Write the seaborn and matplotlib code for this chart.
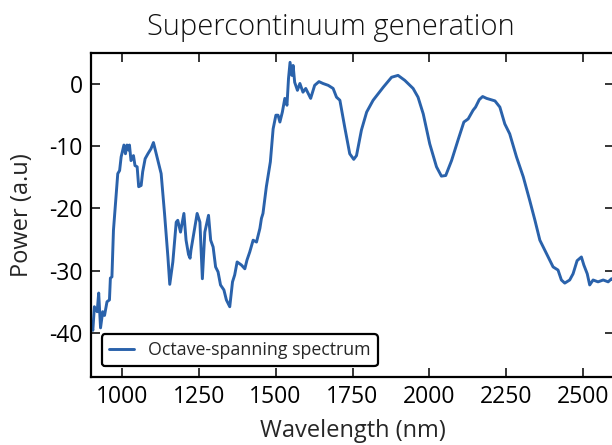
import matplotlib
matplotlib.use("Agg")
import matplotlib.pyplot as plt
import seaborn as sns
import pandas as pd

wavelength = [900, 906, 911, 920, 925, 931, 938, 944, 952, 960, 963, 968, 973, 978, 987, 993, 998,
              1007, 1012, 1017, 1022, 1025, 1030, 1038, 1043, 1050, 1055, 1063, 1068, 1076, 1085,
              1095, 1103, 1112, 1120, 1128, 1139, 1150, 1156, 1166, 1177, 1182, 1191, 1202, 1209,
              1217, 1222, 1225, 1236, 1245, 1254, 1262, 1270, 1282, 1289, 1297, 1305, 1313, 1321,
              1332, 1340, 1351, 1360, 1367, 1375, 1389, 1400, 1407, 1416, 1427, 1438, 1449, 1454,
              1459, 1470, 1483, 1492, 1501, 1508, 1514, 1522, 1530, 1537, 1542, 1547, 1553, 1557,
              1562, 1571, 1579, 1589, 1598, 1614, 1627, 1641, 1654, 1671, 1687, 1698, 1709, 1725,
              1741, 1754, 1763, 1779, 1796, 1817, 1850, 1877, 1898, 1920, 1947, 1963, 1980, 2001,
              2023, 2039, 2053, 2072, 2093, 2112, 2126, 2142, 2150, 2162, 2173, 2186, 2213, 2229,
              2245, 2261, 2283, 2305, 2326, 2343, 2359, 2370, 2386, 2402, 2418, 2429, 2440, 2456,
              2467, 2480, 2494, 2502, 2513, 2521, 2532, 2548, 2565, 2581, 2592, 2600]
power = [-38.5, -39.6, -35.8, -36.6, -33.6, -39.2, -36.6, -37.2, -35.0, -34.7, -31.2, -31.0, -23.5,
         -20.3, -14.4, -13.9, -11.7, -9.8, -11.2, -9.8, -10.6, -9.8, -12.3, -11.5, -13.1, -13.3,
         -16.5, -16.3, -14.1, -12.0, -11.2, -10.4, -9.4, -11.2, -12.8, -14.4, -20.8, -27.8, -32.2,
         -28.6, -22.2, -21.9, -23.8, -20.8, -25.1, -27.4, -28.0, -26.7, -23.5, -20.8, -22.2, -31.3,
         -23.8, -21.1, -25.1, -26.2, -29.4, -30.2, -32.3, -33.1, -34.7, -35.8, -31.8, -30.7, -28.6,
         -29.1, -29.7, -28.3, -27.0, -25.1, -25.4, -23.2, -21.6, -20.8, -16.5, -12.5, -7.2, -5.0,
         -5.0, -6.1, -4.5, -2.3, -3.4, 0.9, 3.5, 1.4, 3.0, 0.3, -1.0, 0.1, -1.3, -0.7, -2.3, -0.2,
         0.4, 0.1, -0.2, -0.7, -2.1, -2.6, -7.0, -11.2, -12.1, -11.5, -7.4, -4.5, -2.6, -0.5, 1.1,
         1.4, 0.6, -0.7, -2.1, -4.8, -9.6, -13.3, -14.8, -14.7, -12.3, -9.0, -6.1, -5.6, -4.2,
         -3.7, -2.5, -2.0, -2.3, -2.7, -3.7, -6.4, -8.0, -11.7, -14.9, -18.7, -21.9, -25.1, -26.2,
         -27.8, -29.4, -29.9, -31.5, -32.0, -31.5, -30.5, -28.4, -27.8, -29.1, -30.5, -32.3, -31.5,
         -31.8, -31.5, -31.8, -31.3, -31.6]
series_label = "Octave-spanning spectrum"
x_ticks = [1000, 1250, 1500, 1750, 2000, 2250, 2500]
y_ticks = [0, -10, -20, -30, -40]

sns.set_style("ticks")
plt.rcParams['font.family'] = ['Open Sans', 'DejaVu Sans']

df = pd.DataFrame({"Wavelength": wavelength, "Power": power, "series": series_label})

fig = plt.figure(figsize=(6.12, 4.45), dpi=100)
ax = fig.add_axes([91/612, 68/445, (614-91)/612, (377-53)/445])
sns.lineplot(data=df, x="Wavelength", y="Power", hue="series", palette=["#2a62ab"],
             linewidth=2.1, ax=ax, estimator=None, sort=False)

ax.set_xlim(900, 2600)
ax.set_ylim(-47.1, 5)
ax.set_xticks(x_ticks)
ax.set_yticks(y_ticks)
ax.set_yticklabels([str(v) for v in y_ticks])
for s in ax.spines.values():
    s.set_visible(True)
    s.set_linewidth(1.6)
    s.set_color("black")
ax.tick_params(direction="in", length=6.5, width=1.1, top=True, right=True,
               labelsize=16.5, pad=6, colors="black")
ax.set_xlabel("Wavelength (nm)", fontsize=17, labelpad=7)
ax.set_ylabel("Power (a.u)", fontsize=17, labelpad=11)
fig.text(331/612, 1 - 27/445, "Supercontinuum generation", ha="center", va="center",
         fontsize=21, fontweight="light", color="#111111")

leg = ax.legend(loc="lower left", fontsize=12.8, frameon=True, fancybox=True,
                borderaxespad=0.6, handlelength=1.4, title=None)
leg.get_frame().set_edgecolor("black")
leg.get_frame().set_linewidth(1.6)
leg.get_frame().set_alpha(1)

fig.savefig("out.png", dpi=100)
